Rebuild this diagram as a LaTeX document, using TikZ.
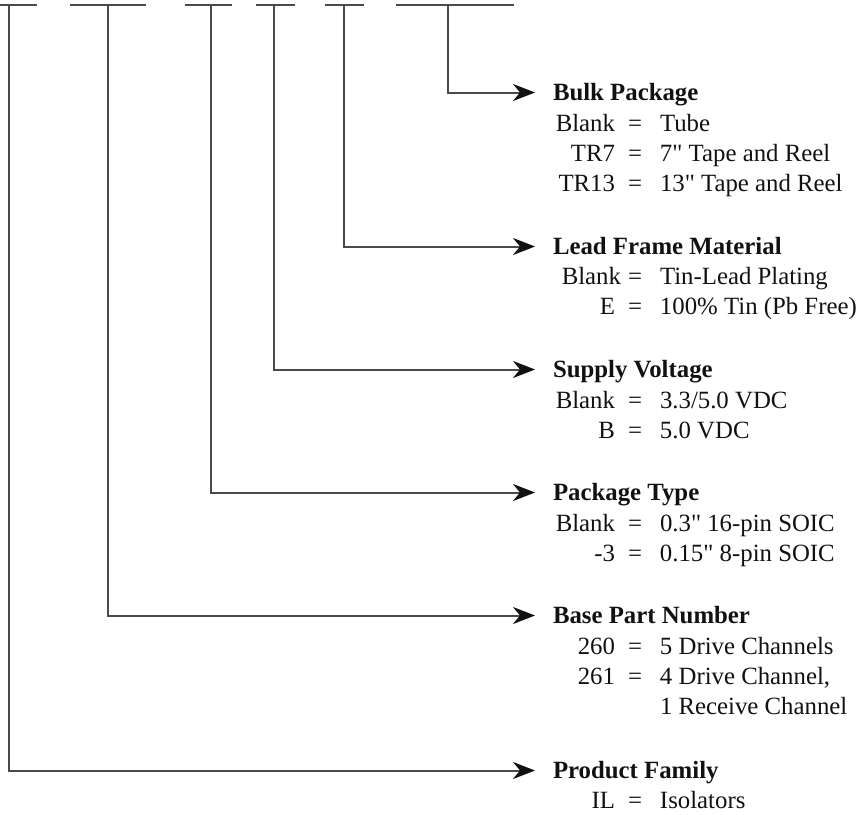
\documentclass[tikz,border=0pt]{standalone}
\usepackage{fontspec}
\setmainfont{Liberation Serif}[Ligatures=TeXOff]
\usetikzlibrary{arrows.meta}
\definecolor{ink}{HTML}{111111}
\definecolor{rule}{HTML}{4A4A4A}
\tikzset{
  every node/.style={text=ink,inner sep=0pt,outer sep=0pt},
  bar/.style={draw=rule,line width=1pt},
  leadarr/.style={-{Stealth[length=11pt,width=8.5pt,inset=3.5pt,color=ink]},draw=rule,line width=1pt,shorten >=9pt},
  head/.style={font=\fontsize{12.4}{15}\selectfont\bfseries,anchor=base west,text height=9.5pt,text depth=2pt},
  opts/.style={font=\fontsize{12.4}{15}\selectfont,anchor=base west},
}
\newcommand{\opt}[2]{\makebox[31pt][r]{#1}\makebox[20pt]{=}\hspace{2.5pt}#2}
\newcommand{\optcont}[1]{\hspace{53.5pt}#1}

\begin{document}
\begin{tikzpicture}[x=0.5pt,y=-0.5pt]
\useasboundingbox (0,0) rectangle (862,814);

\foreach \l/\r in {0/37,70/146,185/232,256/295,325/364,396/514}{\draw[bar] (\l,4.5) -- (\r,4.5);}

\coordinate (cfam) at (9,4.5);
\coordinate (cbase) at (108,4.5);
\coordinate (cpkg) at (211,4.5);
\coordinate (cvolt) at (274,4.5);
\coordinate (clead) at (344,4.5);
\coordinate (cbulk) at (448,4.5);

\node[head] (bulk) at (553,100) {Bulk Package};
\node[opts] (bulkopt) at ([yshift=-15.5pt]bulk.base west) {\begin{tabular}[t]{@{}l@{}}\opt{Blank}{Tube}\\\opt{TR7}{7" Tape and Reel}\\\opt{TR13}{13" Tape and Reel}\end{tabular}};

\node[head] (lead) at (553,254) {Lead Frame Material};
\node[opts] (leadopt) at ([yshift=-15pt]lead.base west) {\begin{tabular}[t]{@{}l@{}}\opt{Blank\hspace{-3pt}}{Tin-Lead Plating}\\\opt{E}{100\% Tin (Pb Free)}\end{tabular}};

\node[head] (volt) at (553,377) {Supply Voltage};
\node[opts] (voltopt) at ([yshift=-15.5pt]volt.base west) {\begin{tabular}[t]{@{}l@{}}\opt{Blank}{3.3/5.0 VDC}\\\opt{B}{5.0 VDC}\end{tabular}};

\node[head] (pkg) at (553,500) {Package Type};
\node[opts] (pkgopt) at ([yshift=-15.5pt]pkg.base west) {\begin{tabular}[t]{@{}l@{}}\opt{Blank}{0.3" 16-pin SOIC}\\\opt{-3}{0.15" 8-pin SOIC}\end{tabular}};

\node[head] (base) at (553,623) {Base Part Number};
\node[opts] (baseopt) at ([yshift=-15.5pt]base.base west) {\begin{tabular}[t]{@{}l@{}}\opt{260}{5 Drive Channels}\\\opt{261}{4 Drive Channel,}\\\optcont{1 Receive Channel}\end{tabular}};

\node[head] (fam) at (553,778) {Product Family};
\node[opts] (famopt) at ([yshift=-15pt]fam.base west) {\begin{tabular}[t]{@{}l@{}}\opt{IL}{Isolators}\end{tabular}};

\foreach \c/\n in {cbulk/bulk,clead/lead,cvolt/volt,cpkg/pkg,cbase/base,cfam/fam}{\draw[leadarr] (\c) |- (\n.west);}

\end{tikzpicture}
\end{document}
